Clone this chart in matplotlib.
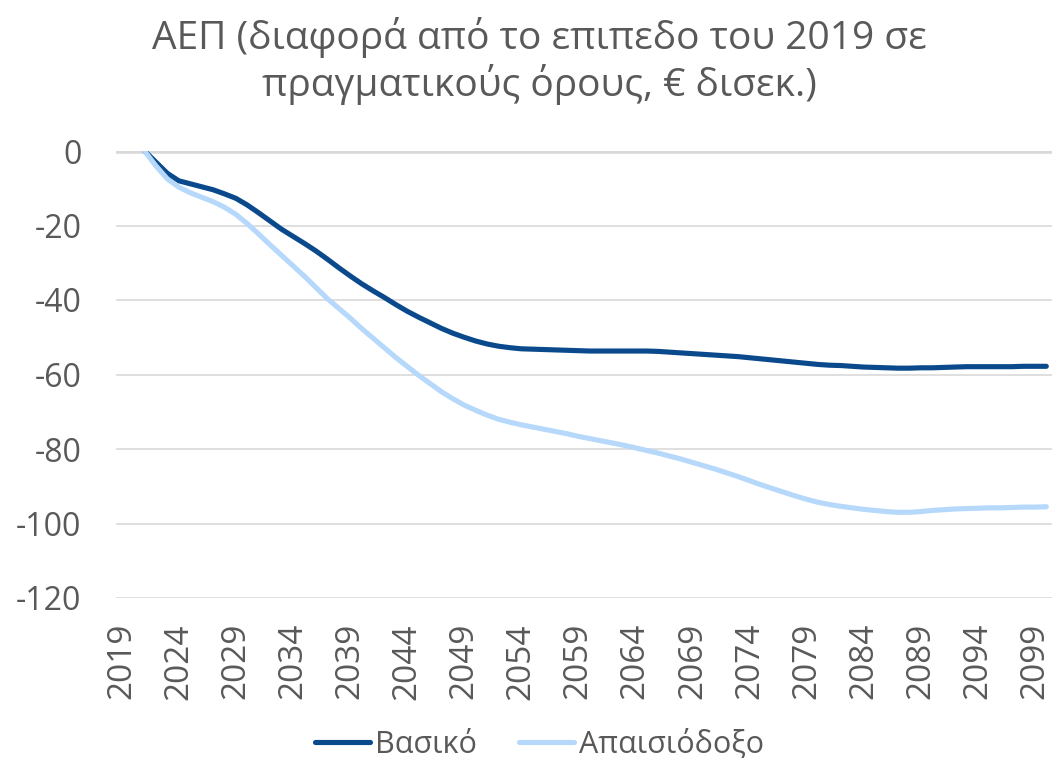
import matplotlib
matplotlib.use("Agg")
import matplotlib.pyplot as plt
import numpy as np

years = list(range(2019, 2101))

# Βασικό (baseline) – values for 2021..2100 (2019, 2020 blank)
basic = [
    0, -3, -6, -8, -8.8, -9.6, -10.4, -11.5, -12.7, -14.5,
    -16.6, -18.8, -21, -22.9, -24.8, -26.8, -29, -31.3, -33.5, -35.6,
    -37.5, -39.3, -41.2, -43, -44.6, -46.1, -47.6, -48.9, -50, -51,
    -51.8, -52.4, -52.8, -53.1, -53.2, -53.3, -53.4, -53.5, -53.6, -53.7,
    -53.7, -53.7, -53.7, -53.7, -53.7, -53.8, -54, -54.2, -54.4, -54.6,
    -54.8, -55, -55.2, -55.5, -55.8, -56.1, -56.4, -56.7, -57, -57.3,
    -57.5, -57.6, -57.8, -58, -58.1, -58.2, -58.3, -58.3, -58.2, -58.2,
    -58.1, -58, -57.9, -57.9, -57.9, -57.9, -57.9, -57.8, -57.8, -57.8,
]

# Απαισιόδοξο (pessimistic) – values for 2021..2100
pessim = [
    0, -4, -7.5, -9.7, -11.2, -12.4, -13.6, -15.1, -17, -19.5,
    -22.3, -25.2, -28, -30.8, -33.6, -36.6, -39.6, -42.2, -44.8, -47.6,
    -50.2, -52.8, -55.4, -57.8, -60.2, -62.4, -64.6, -66.5, -68.2, -69.6,
    -70.9, -72, -72.8, -73.5, -74.1, -74.7, -75.3, -75.9, -76.6, -77.2,
    -77.8, -78.4, -79, -79.7, -80.4, -81.1, -81.9, -82.7, -83.6, -84.5,
    -85.4, -86.4, -87.4, -88.5, -89.6, -90.6, -91.6, -92.6, -93.5, -94.3,
    -94.9, -95.4, -95.8, -96.2, -96.5, -96.8, -97, -97, -96.8, -96.5,
    -96.3, -96.1, -96, -95.9, -95.8, -95.8, -95.7, -95.6, -95.6, -95.5,
]

series_names = ["Βασικό", "Απαισιόδοξο"]
title = "ΑΕΠ (διαφορά από το επιπεδο του 2019 σε\nπραγματικούς όρους, € δισεκ.)"
yticks = [0, -20, -40, -60, -80, -100, -120]

plt.rcParams['font.family'] = ['Open Sans', 'DejaVu Sans']
TXT = '#595959'

fig = plt.figure(figsize=(10.54, 7.58), dpi=100)
ax = fig.add_axes([116/1054, 1 - 598/758, (1052 - 116)/1054, (598 - 151)/758])

n_missing = len(years) - len(basic)
x = np.arange(len(years))
b = np.array([np.nan] * n_missing + basic)
p = np.array([np.nan] * n_missing + pessim)

ax.plot(x, b, color='#0A4A8C', lw=3.7, solid_capstyle='round', label=series_names[0], zorder=3)
ax.plot(x, p, color='#B6D8FA', lw=3.7, solid_capstyle='round', label=series_names[1], zorder=4)

ax.set_xlim(-0.5, len(years) - 0.5)
ax.set_ylim(-120, 0)
ax.set_yticks(yticks)
ax.set_yticklabels([str(v) for v in yticks])
ax.set_xticks(x[::5])
ax.set_xticklabels([str(years[i]) for i in range(0, len(years), 5)], rotation=90)

for v in yticks:
    ax.axhline(v, color='#D9D9D9', lw=1.2 if v != 0 else 4, zorder=1)

for s in ax.spines.values():
    s.set_visible(False)
ax.tick_params(axis='both', length=0, colors=TXT)
ax.tick_params(axis='y', pad=25, labelsize=23)
ax.tick_params(axis='x', pad=18, labelsize=24)

fig.text(0.512, 0.978, title, ha='center', va='top', fontsize=28, color=TXT, linespacing=1.2)

leg = fig.legend(loc='center', bbox_to_anchor=(0.512, 0.018), ncol=2, frameon=False,
                 fontsize=22, handlelength=1.8, handletextpad=0.15, columnspacing=1.4,
                 labelcolor=TXT)
for line in leg.get_lines():
    line.set_linewidth(3.7)

fig.savefig('out.png', dpi=100)
